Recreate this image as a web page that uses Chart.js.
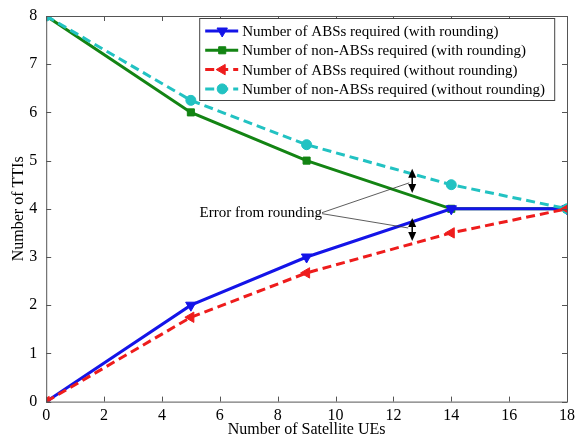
<!DOCTYPE html>
<html>
<head>
<meta charset="utf-8">
<script src="https://cdn.jsdelivr.net/npm/chart.js@4.4.0/dist/chart.umd.min.js"></script>
<style>
html,body{margin:0;padding:0;background:#fff;}
#wrap{width:587px;height:443px;}
</style>
</head>
<body>
<div id="wrap"><canvas id="c" width="587" height="443"></canvas></div>
<script>
// data
const satUEs=[0,5,9,14,18];
const absRound=[0,2,3,4,4];
const nonAbsRound=[8,6,5,4,4];
const absNoRound=[0,1.75,2.67,3.5,4];
const nonAbsNoRound=[8,6.25,5.33,4.5,4];
const xTicks=[0,2,4,6,8,10,12,14,16,18];
const yTicks=[0,1,2,3,4,5,6,7,8];
const seriesNames=[
 "Number of ABSs required (with rounding)",
 "Number of non-ABSs required (with rounding)",
 "Number of ABSs required (without rounding)",
 "Number of non-ABSs required (without rounding)"
];
// annotation in data units: x, [y1,y2] of each double arrow
const errX=12.65;
const errArrows=[[4.83,4.33],[3.81,3.33]];
const errLabelAt=[5.3,3.92];

const FONT="'Liberation Serif','Times New Roman',serif";

function pts(ys){return satUEs.map((x,i)=>({x:x,y:ys[i]}));}

const datasets=[
 {label:seriesNames[0],data:pts(absRound),borderColor:"#1414e8",backgroundColor:"#1414e8",borderWidth:3,pointStyle:"triangle",rotation:180,pointRadius:6},
 {label:seriesNames[1],data:pts(nonAbsRound),borderColor:"#138413",backgroundColor:"#138413",borderWidth:3,pointStyle:"rect",pointRadius:5},
 {label:seriesNames[2],data:pts(absNoRound),borderColor:"#ee1c1c",backgroundColor:"#ee1c1c",borderWidth:3,borderDash:[9,5],pointStyle:"triangle",rotation:-90,pointRadius:6},
 {label:seriesNames[3],data:pts(nonAbsNoRound),borderColor:"#22c2c2",backgroundColor:"#22c2c2",borderWidth:3,borderDash:[9,5],pointStyle:"circle",pointRadius:5}
];
datasets.forEach(d=>{d.tension=0;d.fill=false;d.pointBorderWidth=1;});
datasets[2].order=1;datasets[3].order=1;datasets[0].order=2;datasets[1].order=2;

const boxPlugin={
 id:"box",
 afterDraw(chart){
  const ctx=chart.ctx,a=chart.chartArea;
  const xs=chart.scales.x,ys=chart.scales.y;
  ctx.save();
  ctx.strokeStyle="#555";ctx.lineWidth=1;
  ctx.strokeRect(a.left+0.5,a.top+0.5,a.right-a.left,a.bottom-a.top);
  ctx.beginPath();
  xTicks.forEach(v=>{const p=Math.round(xs.getPixelForValue(v))+0.5;
   ctx.moveTo(p,a.bottom);ctx.lineTo(p,a.bottom-5);ctx.moveTo(p,a.top);ctx.lineTo(p,a.top+5);});
  yTicks.forEach(v=>{const p=Math.round(ys.getPixelForValue(v))+0.5;
   ctx.moveTo(a.left,p);ctx.lineTo(a.left+5,p);ctx.moveTo(a.right,p);ctx.lineTo(a.right-5,p);});
  ctx.stroke();

  // annotation
  ctx.strokeStyle="#000";ctx.fillStyle="#000";
  const ax=xs.getPixelForValue(errX);
  errArrows.forEach(r=>{
   const y1=ys.getPixelForValue(r[0]),y2=ys.getPixelForValue(r[1]);
   ctx.lineWidth=1.5;
   ctx.beginPath();ctx.moveTo(ax,y1+4);ctx.lineTo(ax,y2-4);ctx.stroke();
   ctx.beginPath();ctx.moveTo(ax,y1);ctx.lineTo(ax-4,y1+9);ctx.lineTo(ax+4,y1+9);ctx.closePath();ctx.fill();
   ctx.beginPath();ctx.moveTo(ax,y2);ctx.lineTo(ax-4,y2-9);ctx.lineTo(ax+4,y2-9);ctx.closePath();ctx.fill();
  });
  ctx.font="15px "+FONT;ctx.textBaseline="middle";ctx.textAlign="left";
  const tx=xs.getPixelForValue(errLabelAt[0]),ty=ys.getPixelForValue(errLabelAt[1]);
  ctx.fillText("Error from rounding",tx,ty);
  const tw=ctx.measureText("Error from rounding").width;
  ctx.lineWidth=0.8;ctx.strokeStyle="#333";
  ctx.beginPath();
  ctx.moveTo(tx+tw,ty);ctx.lineTo(ax-3,ys.getPixelForValue((errArrows[0][0]+errArrows[0][1])/2)+2);
  ctx.moveTo(tx+tw,ty+1);ctx.lineTo(ax-4,ys.getPixelForValue(errArrows[1][0])+10);
  ctx.stroke();

  // legend box
  const lx=a.left+153,ly=a.top+2,lw=355,lh=82;
  ctx.fillStyle="#fff";ctx.fillRect(lx,ly,lw,lh);
  ctx.strokeStyle="#444";ctx.lineWidth=1;ctx.strokeRect(lx+0.5,ly+0.5,lw,lh);
  ctx.font="15px "+FONT;ctx.textBaseline="middle";
  chart.data.datasets.forEach((d,i)=>{
   const yy=ly+13+i*19.3;
   ctx.strokeStyle=d.borderColor;ctx.lineWidth=3;
   ctx.setLineDash(d.borderDash||[]);
   ctx.beginPath();ctx.moveTo(lx+6,yy);ctx.lineTo(lx+39,yy);ctx.stroke();
   ctx.setLineDash([]);
   ctx.fillStyle=d.borderColor;ctx.lineWidth=1;
   Chart.helpers.drawPoint(ctx,{pointStyle:d.pointStyle,rotation:d.rotation||0,radius:d.pointRadius,borderWidth:1},lx+23,yy);
   ctx.fillStyle="#000";
   ctx.fillText(d.label,lx+43,yy+1);
  });
  ctx.restore();
 }
};

new Chart(document.getElementById("c"),{
 type:"line",
 data:{datasets:datasets},
 options:{
  responsive:false,animation:false,
  layout:{padding:{left:9,right:20,top:16,bottom:4}},
  plugins:{legend:{display:false},tooltip:{enabled:false}},
  scales:{
   x:{type:"linear",min:0,max:18,
    afterBuildTicks(s){s.ticks=xTicks.map(v=>({value:v}));},
    grid:{display:false},border:{display:false},
    ticks:{color:"#000",font:{family:FONT,size:16},padding:-3},
    title:{display:true,text:"Number of Satellite UEs",color:"#000",font:{family:FONT,size:16},padding:{top:-3,bottom:0}}},
   y:{min:0,max:8,
    afterBuildTicks(s){s.ticks=yTicks.map(v=>({value:v}));},
    grid:{display:false},border:{display:false},
    ticks:{color:"#000",font:{family:FONT,size:16},padding:1},
    title:{display:true,text:"Number of TTIs",color:"#000",font:{family:FONT,size:16},padding:{top:0,bottom:0}}}
  }
 },
 plugins:[boxPlugin]
});
</script>
</body>
</html>
